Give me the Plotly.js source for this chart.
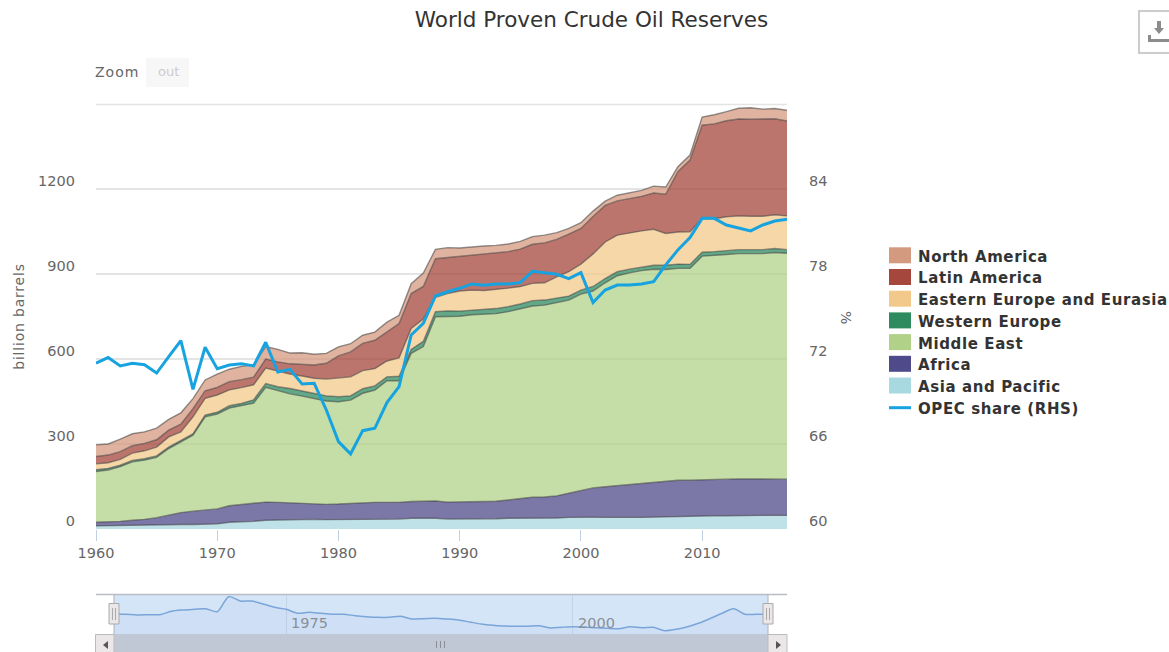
<!DOCTYPE html>
<html>
<head>
<meta charset="utf-8">
<script src="https://cdn.plot.ly/plotly-3.0.1.min.js"></script>
<style>html,body{margin:0;padding:0;background:#fff;overflow:hidden}#chart{width:1169px;height:652px}</style>
</head>
<body>
<div id="chart"></div>
<script>
const years = [1960,1961,1962,1963,1964,1965,1966,1967,1968,1969,1970,1971,1972,1973,1974,1975,1976,1977,1978,1979,1980,1981,1982,1983,1984,1985,1986,1987,1988,1989,1990,1991,1992,1993,1994,1995,1996,1997,1998,1999,2000,2001,2002,2003,2004,2005,2006,2007,2008,2009,2010,2011,2012,2013,2014,2015,2016,2017];
const asiaPacific = [11,12,13,13,14,14,15,16,16,18, 18,24,25,27,31,32,33,33,34,33, 33,34,34,35,35,35,38,39,38,35, 35,35,36,36,38,38,38,38,39,41, 42,42,41,40,41,41,42,44,46,45, 46,47,47,48,48,48,48,48];
const africa = [13,13,14,18,20,26,34,42,47,49, 53,58,62,64,64,62,59,56,55,54, 55,56,59,59,59,59,59,59,61,60, 60,61,61,62,65,71,74,75,78,85, 93,103,108,113,115,120,122,123,126,127, 128,127,129,129,129,129,129,128];
const middleEast = [179,183,193,206,209,213,235,249,268,329, 335,345,348,353,405,394,385,380,372,365, 361,365,386,396,429,429,523,546,650,656, 656,660,661,662,664,667,675,677,682,682, 694,695,720,741,748,751,753,749,748,748, 789,791,793,795,795,795,799,797];
const westernEurope = [6,6,5,5,5,5,5,5,5,6, 6,8,8,12,13,14,19,18,18,18, 18,15,16,15,14,16,14,18,18,19, 18,16,16,18,18,18,19,18,16,14, 14,16,15,14,13,13,14,15,15,14, 14,14,14,14,14,14,14,13];
const easternEurope = [21,20,21,26,28,31,36,31,60,59, 61,56,56,53,55,55,51,53,53,59, 65,67,64,61,56,65,74,79,51,61, 71,71,68,67,65,62,61,61,75,86, 92,115,129,129,128,127,127,112,113,115, 119,116,119,119,118,118,119,119];
const latinAmerica = [26,27,27,26,26,26,24,27,29,27, 27,29,28,27,32,33,36,42,47,56, 79,88,96,100,102,121,123,115,136,127, 121,122,129,129,129,132,138,141,132,133, 126,132,129,121,121,122,128,139,213,253, 329,335,339,342,342,342,339,335];
const northAmerica = [41,39,44,42,41,41,38,40,35,38, 47,44,47,44,44,44,38,40,38,35, 32,29,29,29,35,29,35,47,33,35, 31,31,28,27,27,27,27,27,24,20, 20,19,15,20,21,21,24,25,18,18, 29,32,32,38,41,36,36,38];
const opecShare = [71.70,72.10,71.51,71.70,71.60,71.01,72.17,73.30,69.86,72.83, 71.32,71.58,71.67,71.51,73.18,71.08,71.27,70.24,70.28,68.40, 66.17,65.30,66.94,67.11,68.92,70.05,73.70,74.52,76.45,76.75, 76.99,77.30,77.20,77.30,77.30,77.39,78.19,78.10,77.98,77.67, 78.10,75.98,76.87,77.22,77.22,77.30,77.46,78.64,79.70,80.57, 81.93,81.93,81.46,81.25,81.04,81.46,81.74,81.86];
const navigatorSeries = [20,19.7,19,19.3,19.3,22.7,24,24.7,25.3,22.3, 37.3,33,33,30,26.7,24.7,20.7,21.7,20.7,19.7, 19.7,18.3,17.3,16.7,16.7,17.7,15,15.3,15.7,15, 14,12,10,8.7,8,7.7,7.7,8.3,6,6.7, 7.3,7,6.3,5.7,5.3,7.3,6.3,6.7,3.3,4.7, 7.3,11,15.7,20.7,25.3,19.7,19.7,19.7];

const stackNames = ['Asia and Pacific','Africa','Middle East','Western Europe','Eastern Europe and Eurasia','Latin America','North America'];
const stackValues = [asiaPacific,africa,middleEast,westernEurope,easternEurope,latinAmerica,northAmerica];
const stackColors = ['#a8d8e0','#4f4a8a','#b2d188','#2e8b5f','#f3c98b','#a5473c','#d49a7f'];
const opecName = 'OPEC share (RHS)';
const opecColor = '#17a3e0';
const leftTicks = [0,300,600,900,1200];
const leftTickText = ['0','300','600','900','1200'];
const rightTicks = [60,66,72,78,84];
const rightTickText = ['60','66','72','78','84'];

const W = 1169, H = 652;
const fx = p => p / W, fy = p => 1 - p / H;
const FONT = 'DejaVu Sans';
const spaced = (t, s) => `<span style="letter-spacing:${s}px">${t}</span>`;
const hexA = (h, a) => `rgba(${parseInt(h.slice(1,3),16)},${parseInt(h.slice(3,5),16)},${parseInt(h.slice(5,7),16)},${a})`;

const traces = stackNames.map((n, i) => ({
  type:'scatter', mode:'lines', name:n, x:years, y:stackValues[i], stackgroup:'one',
  fillcolor:hexA(stackColors[i],0.75), line:{color:'rgba(60,60,60,0.55)',width:1.4}, xaxis:'x', yaxis:'y'
}));
traces.push({type:'scatter',mode:'lines',name:opecName,x:years,y:opecShare,line:{color:opecColor,width:3,shape:'linear'},xaxis:'x',yaxis:'y2'});
traces.push({type:'scatter',mode:'lines',name:'Navigator',x:years,y:navigatorSeries,fill:'tozeroy',fillcolor:'rgba(90,140,210,0.05)',line:{color:'#7aa5d8',width:1.5,shape:'spline',smoothing:0.8},xaxis:'x2',yaxis:'y3',showlegend:false});

const rect = (x0,y0,x1,y1,fill,line,lw,layer) => ({type:'rect',xref:'paper',yref:'paper',x0:fx(x0),x1:fx(x1),y0:fy(y1),y1:fy(y0),fillcolor:fill,line:{color:line||fill,width:lw||0},layer:layer||'below'});
const seg = (x0,y0,x1,y1,c,w,layer) => ({type:'line',xref:'paper',yref:'paper',x0:fx(x0),x1:fx(x1),y0:fy(y0),y1:fy(y1),line:{color:c,width:w||1},layer:layer||'above'});
const poly = (pts,fill) => ({type:'path',xref:'paper',yref:'paper',path:'M'+pts.map(p=>fx(p[0])+','+fy(p[1])).join('L')+'Z',fillcolor:fill,line:{width:0},layer:'above'});

const shapes = [
  seg(96,104.5,787,104.5,'#e4e4e4',1.5,'below'),
  rect(146,58,189,87,'#f7f7f7'),
  rect(1139,11,1180,53,'#ffffff','#cccccc',2),
  poly([[1157,21],[1161,21],[1161,28],[1164,28],[1159,34],[1154,28],[1157,28]],'#8c8c8c'),
  poly([[1148,35],[1151,35],[1151,39],[1169,39],[1169,42],[1148,42]],'#8c8c8c'),
  rect(114,595,768,634,'#d5e5f8'),
  seg(96,594.5,787,594.5,'#b9bcc4',1.5),
  seg(114,594.5,114,634,'#aeb2ba',1),
  seg(768,594.5,768,634,'#aeb2ba',1),
  rect(114,634,768,652,'#bfc8d4'),
  rect(95.5,634.5,114,652.5,'#ebe7e8','#bbbbbb',1,'above'),
  rect(768,634.5,787,652.5,'#ebe7e8','#bbbbbb',1,'above'),
  poly([[108,641],[108,649],[103,645]],'#555555'),
  poly([[776,641],[776,649],[781,645]],'#555555'),
  seg(436.5,641,436.5,648,'#8b8f97',1),seg(440.5,641,440.5,648,'#8b8f97',1),seg(444.5,641,444.5,648,'#8b8f97',1),
  rect(109,603.5,119,624,'#ebe7e8','#aaaaaa',1,'above'),
  seg(112.5,608,112.5,620,'#aaaaaa',1),seg(115.5,608,115.5,620,'#aaaaaa',1),
  rect(763,603.5,773,624,'#ebe7e8','#aaaaaa',1,'above'),
  seg(766.5,608,766.5,620,'#aaaaaa',1),seg(769.5,608,769.5,620,'#aaaaaa',1)
];

const txt = (x,y,t,size,color,anchor,extra) => Object.assign({xref:'paper',yref:'paper',x:fx(x),y:fy(y),text:t,showarrow:false,xanchor:anchor||'left',yanchor:'middle',font:{family:FONT,size,color}},extra||{});
const annotations = [
  txt(93,72.5,spaced('Zoom',1),14,'#666666'),
  txt(168,71.5,'out',13,'#cccccc','center'),
  txt(846,317,'%',14,'#666666','center',{textangle:90}),
  {xref:'x2',yref:'paper',x:1975,y:fy(623),text:'1975',showarrow:false,xanchor:'left',xshift:3,yanchor:'middle',font:{family:FONT,size:14.5,color:'#8a8f96'}},
  {xref:'x2',yref:'paper',x:2000,y:fy(623),text:'2000',showarrow:false,xanchor:'left',xshift:3,yanchor:'middle',font:{family:FONT,size:14.5,color:'#8a8f96'}}
];

const legendTop = 255.3, legendStep = 21.7, legendTextDrop = 1.5;
const legendOrder = stackNames.map((n,i)=>i).reverse();
legendOrder.forEach((s,row) => {
  const cy = legendTop + row*legendStep;
  shapes.push(rect(889,cy-8,911,cy+8,stackColors[s]));
  annotations.push(txt(916,cy+legendTextDrop,'<b>'+spaced(stackNames[s],0.6)+'</b>',15,'#333333'));
});
const opecY = legendTop + legendOrder.length*legendStep;
shapes.push(seg(889,opecY+0.5,911,opecY+0.5,opecColor,3));
annotations.push(txt(916,opecY+legendTextDrop,'<b>'+spaced(opecName,0.6)+'</b>',15,'#333333'));

const layout = {
  width:W,height:H,margin:{l:0,r:0,t:0,b:0},paper_bgcolor:'#fff',plot_bgcolor:'rgba(0,0,0,0)',showlegend:false,
  hovermode:false,font:{family:FONT,color:'#666666',size:14},
  title:{text:'World Proven Crude Oil Reserves',x:fx(591.5),xanchor:'center',y:fy(19),yanchor:'middle',xref:'paper',yref:'paper',font:{family:FONT,size:21.5,color:'#333333'}},
  xaxis:{domain:[fx(96),fx(787)],range:[1960,2017],tick0:1960,dtick:10,tickmode:'linear',ticks:'outside',ticklen:11,tickcolor:'#c0d0e0',tickwidth:1,showgrid:false,zeroline:false,showline:false,tickfont:{family:FONT,size:14.5,color:'#666666'},anchor:'y'},
  yaxis:{domain:[fy(529),fy(104)],range:[0,1500],tickmode:'array',tickvals:leftTicks,ticktext:leftTickText,gridcolor:'#e4e4e4',gridwidth:1.5,zeroline:false,showline:false,ticks:'',tickfont:{family:FONT,size:14.5,color:'#666666'},ticklabelstandoff:20,ticklabelshift:-8,title:{text:spaced('billion barrels',0.8),standoff:10,font:{family:FONT,size:14,color:'#666666'}},anchor:'x'},
  yaxis2:{domain:[fy(529),fy(104)],range:[60,90],overlaying:'y',side:'right',anchor:'x',tickmode:'array',tickvals:rightTicks,ticktext:rightTickText,showgrid:false,zeroline:false,showline:false,ticks:'',tickfont:{family:FONT,size:14.5,color:'#666666'},ticklabelstandoff:21,ticklabelshift:-8},
  xaxis2:{domain:[fx(114),fx(768)],range:[1960,2017],anchor:'y3',tickmode:'array',tickvals:[1975,2000],showticklabels:false,ticks:'',showgrid:true,gridcolor:'#c3d4e8',gridwidth:1,zeroline:false,showline:false},
  yaxis3:{domain:[fy(634),fy(595)],range:[0,39],anchor:'x2',showticklabels:false,ticks:'',showgrid:false,zeroline:false,showline:false},
  shapes,annotations
};
Plotly.newPlot('chart',traces,layout,{displayModeBar:false,staticPlot:true,responsive:false});
</script>
</body>
</html>
